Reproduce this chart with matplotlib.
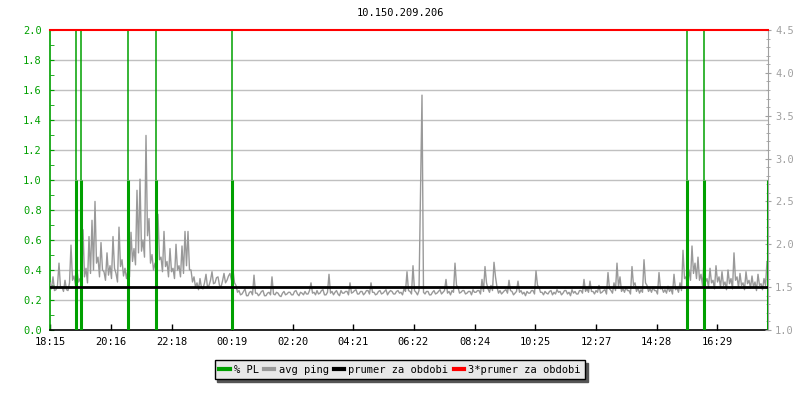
import matplotlib
matplotlib.use('Agg')

import numpy as np
import matplotlib.pyplot as plt
from matplotlib.lines import Line2D

# ===================== data =====================
TITLE = '10.150.209.206'

# tick labels (time of day), start at 18:15, 24h window
tick_labels = ['18:15', '20:16', '22:18', '00:19', '02:20', '04:21',
               '06:22', '08:24', '10:25', '12:27', '14:28', '16:29']
SPAN_MIN = 1436
STEP_MIN = 3   # one ping sample every 3 minutes

# avg ping [ms], right axis -- one row per hour
ping = [
    1.55, 1.48, 1.62, 1.46, 1.47, 1.52, 1.78, 1.49, 1.50, 1.45, 1.58, 1.47, 1.46, 1.55, 1.99, 1.58, 1.63, 1.52, 1.70, 1.56,
    1.60, 1.50, 2.17, 1.62, 1.72, 1.55, 2.09, 1.66, 2.28, 1.70, 2.50, 1.78, 1.85, 1.62, 2.02, 1.70, 1.68, 1.58, 1.90, 1.64,
    1.75, 1.60, 2.09, 1.72, 1.66, 1.56, 2.20, 1.74, 1.82, 1.63, 1.72, 1.60, 1.70, 1.62, 2.14, 1.80, 1.95, 1.76, 2.63, 1.90,
    2.76, 1.92, 2.05, 1.85, 3.27, 2.10, 2.30, 1.78, 1.88, 1.70, 1.78, 1.66, 2.35, 1.82, 1.85, 1.68, 2.15, 1.74, 1.80, 1.62,
    1.95, 1.68, 1.72, 1.60, 2.00, 1.70, 1.75, 1.62, 1.98, 1.66, 2.15, 1.75, 2.15, 1.70, 1.70, 1.56, 1.62, 1.50, 1.55, 1.47,
    1.60, 1.49, 1.48, 1.55, 1.65, 1.50, 1.52, 1.58, 1.68, 1.54, 1.55, 1.61, 1.62, 1.52, 1.50, 1.57, 1.66, 1.55, 1.58, 1.63,
    1.66, 1.58, 1.70, 1.55, 1.52, 1.44, 1.46, 1.41, 1.42, 1.45, 1.48, 1.40, 1.40, 1.44, 1.45, 1.41, 1.64, 1.43, 1.43, 1.40,
    1.42, 1.45, 1.46, 1.40, 1.40, 1.43, 1.44, 1.41, 1.62, 1.42, 1.41, 1.44, 1.43, 1.40, 1.39, 1.43, 1.45, 1.41, 1.42, 1.44,
    1.44, 1.41, 1.41, 1.45, 1.46, 1.42, 1.40, 1.44, 1.43, 1.41, 1.45, 1.42, 1.42, 1.46, 1.55, 1.43, 1.44, 1.41, 1.46, 1.42,
    1.43, 1.46, 1.47, 1.41, 1.41, 1.44, 1.65, 1.43, 1.45, 1.41, 1.44, 1.46, 1.42, 1.40, 1.46, 1.43, 1.43, 1.45, 1.45, 1.41,
    1.55, 1.43, 1.44, 1.46, 1.47, 1.42, 1.42, 1.45, 1.45, 1.41, 1.43, 1.46, 1.46, 1.42, 1.55, 1.44, 1.44, 1.41, 1.42, 1.45,
    1.46, 1.42, 1.43, 1.45, 1.47, 1.41, 1.44, 1.46, 1.45, 1.42, 1.42, 1.45, 1.46, 1.43, 1.44, 1.41, 1.48, 1.45, 1.68, 1.46,
    1.45, 1.42, 1.75, 1.46, 1.44, 1.41, 1.46, 2.60, 3.74, 1.44, 1.42, 1.45, 1.45, 1.41, 1.41, 1.44, 1.46, 1.42, 1.43, 1.45,
    1.47, 1.42, 1.44, 1.46, 1.59, 1.43, 1.45, 1.41, 1.46, 1.44, 1.78, 1.52, 1.50, 1.43, 1.44, 1.46, 1.46, 1.42, 1.43, 1.45,
    1.45, 1.41, 1.47, 1.44, 1.44, 1.46, 1.46, 1.42, 1.59, 1.45, 1.74, 1.55, 1.48, 1.44, 1.52, 1.46, 1.79, 1.62, 1.50, 1.43,
    1.46, 1.42, 1.44, 1.46, 1.47, 1.43, 1.58, 1.46, 1.45, 1.41, 1.43, 1.45, 1.57, 1.44, 1.46, 1.42, 1.44, 1.40, 1.45, 1.43,
    1.43, 1.46, 1.46, 1.42, 1.69, 1.52, 1.50, 1.44, 1.44, 1.41, 1.45, 1.43, 1.42, 1.45, 1.46, 1.41, 1.44, 1.42, 1.47, 1.44,
    1.45, 1.41, 1.43, 1.46, 1.46, 1.42, 1.44, 1.40, 1.47, 1.43, 1.45, 1.42, 1.42, 1.46, 1.46, 1.43, 1.59, 1.45, 1.48, 1.44,
    1.57, 1.45, 1.45, 1.42, 1.46, 1.44, 1.52, 1.43, 1.44, 1.46, 1.47, 1.42, 1.67, 1.48, 1.46, 1.43, 1.55, 1.46, 1.78, 1.50,
    1.62, 1.45, 1.48, 1.44, 1.50, 1.46, 1.46, 1.42, 1.74, 1.52, 1.55, 1.45, 1.49, 1.43, 1.47, 1.44, 1.82, 1.55, 1.52, 1.45,
    1.48, 1.44, 1.50, 1.46, 1.46, 1.42, 1.67, 1.48, 1.49, 1.44, 1.47, 1.43, 1.51, 1.45, 1.48, 1.42, 1.65, 1.47, 1.49, 1.44,
    1.55, 1.46, 1.93, 1.60, 1.62, 1.52, 1.70, 1.58, 1.98, 1.66, 1.78, 1.60, 1.85, 1.58, 1.65, 1.52, 1.79, 1.56, 1.60, 1.50,
    1.72, 1.55, 1.58, 1.48, 1.75, 1.56, 1.62, 1.50, 1.68, 1.52, 1.56, 1.47, 1.70, 1.54, 1.60, 1.48, 1.90, 1.58, 1.62, 1.50,
    1.66, 1.52, 1.55, 1.47, 1.68, 1.54, 1.58, 1.49, 1.63, 1.50, 1.56, 1.46, 1.65, 1.52, 1.54, 1.47, 1.60, 1.52, 1.80, 1.72,
]

prumer = 1.5              # prumer za obdobi [ms]
prumer3 = 3 * prumer      # 3*prumer za obdobi

# % PL events (minutes from start), lower solid part and whether it runs to the top
pl_times = [52, 62, 156, 212, 364, 1274, 1308, 1435]
pl_low = [1.0, 1.0, 1.0, 1.0, 1.0, 1.0, 1.0, 1.0]
pl_to_top = [True, True, True, True, True, True, True, False]

# ===================== plot =====================
GREEN = '#00a000'
GRAY = '#999999'
AXGRAY = '#a0a0a0'
FONT = 'DejaVu Sans Mono'
FS = 7.5

plt.rcParams['font.family'] = FONT

fig = plt.figure(figsize=(8, 4), dpi=100)
ax = fig.add_axes([50 / 800, 70 / 400, 718 / 800, 300 / 400])
ax2 = ax.twinx()

ax.set_xlim(0, SPAN_MIN)
ax.set_ylim(0, 2.0)
ax2.set_ylim(1.0, 4.5)

# grid (left axis units)
for g in np.arange(0.2, 2.0, 0.2):
    ax.axhline(g, color='#c0c0c0', lw=1, zorder=0)

t = np.arange(len(ping)) * STEP_MIN
ax2.plot(t, ping, color=GRAY, lw=1, zorder=2)

# % PL (left axis units, drawn into ax2 so it sits above ping)
for tm, lo, top in zip(pl_times, pl_low, pl_to_top):
    ax2.plot([tm, tm], [0, lo], color=GREEN, lw=2.2, transform=ax.transData,
             zorder=3, solid_capstyle='butt')
    if top:
        ax2.plot([tm, tm], [lo, 2.0], color=GREEN, lw=1.1, transform=ax.transData,
                 zorder=3, solid_capstyle='butt')

ax2.axhline(prumer, color='black', lw=2, zorder=4)
ax2.axhline(prumer3, color='red', lw=1.5, zorder=5, clip_on=False)

# x axis
tick_pos = []
for lab in tick_labels:
    h, m = map(int, lab.split(':'))
    tick_pos.append(((h * 60 + m) - (18 * 60 + 15)) % 1440)
ax.set_xticks(tick_pos)
ax.set_xticklabels(tick_labels, fontsize=FS)
ax.tick_params(axis='x', direction='in', length=4, width=1, color='black', pad=5)

# left axis
ax.set_yticks(np.arange(0, 2.01, 0.2))
ax.set_yticklabels([f'{v:.1f}' for v in np.arange(0, 2.01, 0.2)], fontsize=FS, color=GREEN)
ax.set_yticks(np.arange(0.1, 2.0, 0.2), minor=True)
ax.tick_params(axis='y', which='both', direction='in', length=3, color=GREEN, pad=6)

# right axis
ax2.set_yticks(np.arange(1.0, 4.51, 0.5))
ax2.set_yticklabels([f'{v:.1f}' for v in np.arange(1.0, 4.51, 0.5)], fontsize=FS, color=AXGRAY)
ax2.set_yticks(np.arange(1.1, 4.5, 0.1), minor=True)
ax2.tick_params(axis='y', which='major', direction='inout', length=4, color=AXGRAY, pad=3)
ax2.tick_params(axis='y', which='minor', direction='inout', length=3, color=AXGRAY)

for a in (ax, ax2):
    a.spines['top'].set_visible(False)
ax.spines['right'].set_visible(False)
ax.spines['left'].set_color(GREEN)
ax.spines['left'].set_linewidth(1.2)
ax.spines['bottom'].set_linewidth(1.2)
ax2.spines['left'].set_visible(False)
ax2.spines['bottom'].set_visible(False)
ax2.spines['right'].set_color(AXGRAY)

fig.text(0.5, 1 - 13 / 400, TITLE, ha='center', va='center', fontsize=FS)

handles = [
    Line2D([], [], color=GREEN, lw=3),
    Line2D([], [], color=GRAY, lw=3),
    Line2D([], [], color='black', lw=3),
    Line2D([], [], color='red', lw=3),
]
labels = ['% PL', 'avg ping', 'prumer za obdobi', '3*prumer za obdobi']
leg = fig.legend(handles, labels, loc='upper center', bbox_to_anchor=(0.5, 0.1),
                 ncol=4, fontsize=FS, frameon=True, fancybox=False,
                 shadow={'color': '#555555', 'alpha': 1.0},
                 handlelength=1.0, handletextpad=0.4, columnspacing=0.5,
                 borderpad=0.45, borderaxespad=0)
leg.get_frame().set_facecolor('#e8e8e8')
leg.get_frame().set_edgecolor('black')
leg.get_frame().set_alpha(1)
leg.get_frame().set_linewidth(1)

fig.savefig('out.png', dpi=100, facecolor='white')
